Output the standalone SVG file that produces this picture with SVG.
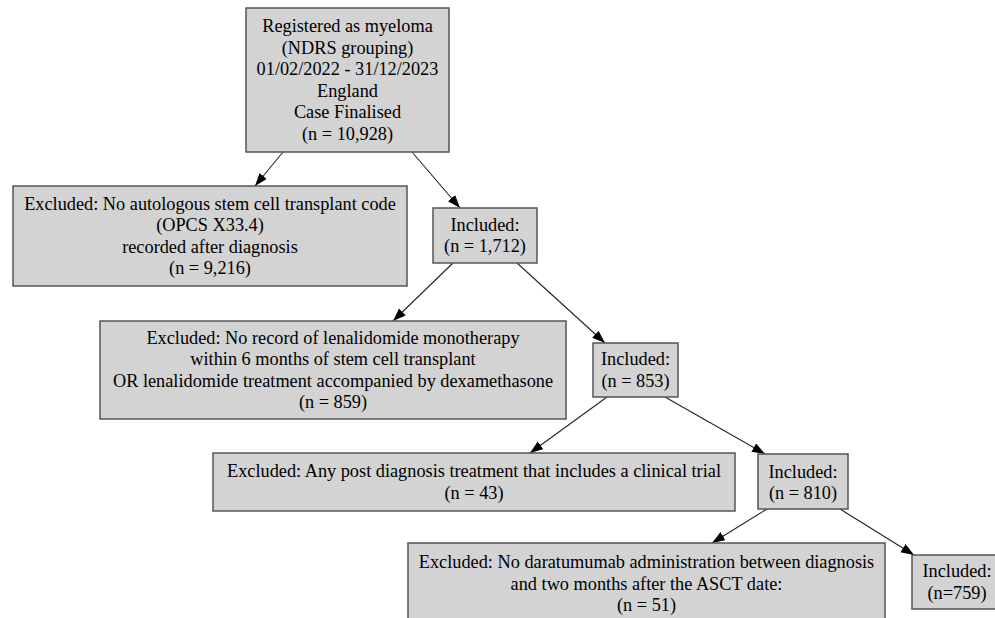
<svg xmlns="http://www.w3.org/2000/svg" width="995" height="618" viewBox="0 0 995 618">
<defs>
<style>
.box{fill:#d3d3d3;stroke:#555;stroke-width:1.5}
text{font-family:"Liberation Serif","Times New Roman",serif;font-size:18.3px;fill:#000;text-anchor:middle}
.edge{stroke:#222;stroke-width:1.1;fill:none;marker-end:url(#ah)}
</style>
<marker id="ah" markerUnits="userSpaceOnUse" markerWidth="14" markerHeight="12" refX="13" refY="4.75" orient="auto">
<polygon points="0,0 13,4.75 0,9.5" fill="#000"/>
</marker>
</defs>
<rect width="995" height="618" fill="#fff"/>
<g id="edges">
<path class="edge" d="M283,152 L255,186"/>
<path class="edge" d="M412,152 L460,208"/>
<path class="edge" d="M453,263 L393,321"/>
<path class="edge" d="M517,263 L605,343"/>
<path class="edge" d="M607,397 L530,453"/>
<path class="edge" d="M665,397 L765,454"/>
<path class="edge" d="M767,509 L712,543"/>
<path class="edge" d="M840,509 L914,555"/>
</g>
<g id="start">
<rect class="box" x="246" y="8" width="203" height="144"/>
<text x="347.5" y="32">Registered as myeloma</text>
<text x="347.5" y="53.6">(NDRS grouping)</text>
<text x="347.5" y="75.2">01/02/2022 - 31/12/2023</text>
<text x="347.5" y="96.8">England</text>
<text x="347.5" y="118.4">Case Finalised</text>
<text x="347.5" y="140">(n = 10,928)</text>
</g>
<g id="excl1">
<rect class="box" x="13" y="186" width="394" height="100"/>
<text x="210" y="209.6">Excluded: No autologous stem cell transplant code</text>
<text x="210" y="231.2">(OPCS X33.4)</text>
<text x="210" y="252.8">recorded after diagnosis</text>
<text x="210" y="274.4">(n = 9,216)</text>
</g>
<g id="incl1">
<rect class="box" x="433" y="208" width="104" height="55"/>
<text x="485" y="230.7">Included:</text>
<text x="485" y="252.3">(n = 1,712)</text>
</g>
<g id="excl2">
<rect class="box" x="100" y="321" width="466" height="98"/>
<text x="333" y="343.6">Excluded: No record of lenalidomide monotherapy</text>
<text x="333" y="365.2">within 6 months of stem cell transplant</text>
<text x="333" y="386.8">OR lenalidomide treatment accompanied by dexamethasone</text>
<text x="333" y="408.4">(n = 859)</text>
</g>
<g id="incl2">
<rect class="box" x="593" y="343" width="85" height="54"/>
<text x="635.5" y="365.2">Included:</text>
<text x="635.5" y="386.8">(n = 853)</text>
</g>
<g id="excl3">
<rect class="box" x="213" y="453" width="522" height="58"/>
<text x="474" y="477.2">Excluded: Any post diagnosis treatment that includes a clinical trial</text>
<text x="474" y="498.8">(n = 43)</text>
</g>
<g id="incl3">
<rect class="box" x="758" y="454" width="90" height="55"/>
<text x="803" y="477.7">Included:</text>
<text x="803" y="499.3">(n = 810)</text>
</g>
<g id="excl4">
<rect class="box" x="408" y="543" width="477" height="80"/>
<text x="646.5" y="568">Excluded: No daratumumab administration between diagnosis</text>
<text x="646.5" y="589.6">and two months after the ASCT date:</text>
<text x="646.5" y="611.2">(n = 51)</text>
</g>
<g id="incl4">
<rect class="box" x="912" y="555" width="90" height="54"/>
<text x="957" y="577.2">Included:</text>
<text x="957" y="598.8">(n=759)</text>
</g>
</svg>
